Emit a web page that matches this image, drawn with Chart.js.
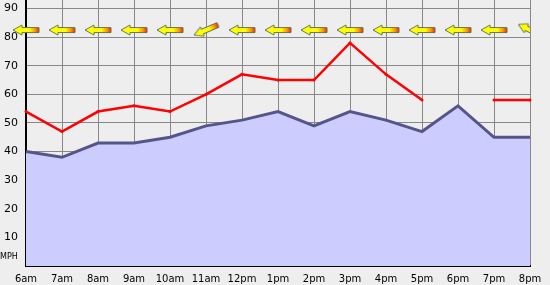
<!DOCTYPE html>
<html>
<head>
<meta charset="utf-8">
<script src="https://cdn.jsdelivr.net/npm/chart.js@4/dist/chart.umd.min.js"></script>
<style>
  html, body { margin: 0; padding: 0; background: #eeeeee; }
  canvas { display: block; }
</style>
</head>
<body>
<canvas id="wind-chart" width="550" height="285"></canvas>
<script>
'use strict';

// 時刻ラベル
const hours = ['6am', '7am', '8am', '9am', '10am', '11am', '12pm', '1pm', '2pm', '3pm', '4pm', '5pm', '6pm', '7pm', '8pm'];
// 平均風速 (MPH)
const windAvg = [40, 38, 43, 43, 45, 49, 51, 54, 49, 54, 51, 47, 56, 45, 45];
// 最大瞬間風速 (MPH)
const windGust = [54, 47, 54, 56, 54, 60, 67, 65, 65, 78, 67, 58, null, 58, 58];
// 風向矢印の回転 (度)
const arrowRotation = [0, 0, 0, 0, 0, -23, 0, 0, 0, 0, 0, 0, 0, 0, 26];
const arrowLevel = 82.5;
const yTicks = [10, 20, 30, 40, 50, 60, 70, 80, 90];

// 矢印画像を作る
function makeArrow() {
  const c = document.createElement('canvas');
  c.width = 28;
  c.height = 12;
  const g = c.getContext('2d');
  const grad = g.createLinearGradient(0, 0, 28, 0);
  grad.addColorStop(0, '#ffff00');
  grad.addColorStop(0.62, '#ffff00');
  grad.addColorStop(0.82, '#ff9900');
  grad.addColorStop(1, '#dd1100');
  g.beginPath();
  g.moveTo(1, 6);
  g.lineTo(10, 1);
  g.lineTo(10, 3.5);
  g.lineTo(27, 3.5);
  g.lineTo(27, 8.5);
  g.lineTo(10, 8.5);
  g.lineTo(10, 11);
  g.closePath();
  g.fillStyle = grad;
  g.fill();
  g.strokeStyle = '#667755';
  g.lineWidth = 1;
  g.stroke();
  return c;
}
const arrowImg = makeArrow();

// MPH ラベル
const mphLabel = {
  id: 'mphLabel',
  afterDraw(chart) {
    const y = chart.scales.y;
    const ctx = chart.ctx;
    ctx.save();
    ctx.font = '8px "DejaVu Sans"';
    ctx.fillStyle = '#000';
    ctx.textAlign = 'left';
    ctx.textBaseline = 'middle';
    ctx.fillText('MPH', 0, y.getPixelForValue(0) - 9);
    ctx.restore();
  }
};

const ctx = document.getElementById('wind-chart').getContext('2d');

new Chart(ctx, {
  type: 'line',
  data: {
    labels: hours,
    datasets: [
      {
        data: hours.map(() => arrowLevel),
        showLine: false,
        pointStyle: arrowImg,
        pointRotation: arrowRotation,
        pointRadius: 10,
        clip: { left: false, top: false, right: 0, bottom: false },
        order: 0,
      },
      {
        data: windGust,
        borderColor: '#ff0000',
        borderWidth: 2.5,
        pointRadius: 1.5,
        pointBackgroundColor: '#ff0000',
        pointBorderWidth: 0,
        spanGaps: false,
        fill: false,
        order: 1,
      },
      {
        data: windAvg,
        borderColor: '#55558a',
        borderWidth: 3,
        backgroundColor: '#ccccff',
        pointRadius: 0,
        fill: 'origin',
        order: 2,
      },
    ]
  },
  options: {
    responsive: false,
    animation: false,
    layout: { autoPadding: false, padding: { left: 0, right: 20, top: 0, bottom: 0 } },
    plugins: {
      legend: { display: false },
      tooltip: { enabled: false },
    },
    scales: {
      x: {
        offset: false,
        grid: { color: '#888888', lineWidth: 1, drawTicks: false },
        border: { color: '#000000', width: 2 },
        ticks: {
          font: { family: 'DejaVu Sans', size: 10 },
          color: '#000',
          padding: 7,
          maxRotation: 0,
          autoSkip: false,
        },
        afterFit(scale) {
          scale.height = 19;
          scale.paddingLeft = 0;
          scale.paddingRight = 0;
        },
      },
      y: {
        min: 0,
        max: 93,
        afterBuildTicks(scale) {
          scale.ticks = yTicks.map(v => ({ value: v }));
        },
        grid: { color: '#888888', lineWidth: 1, drawTicks: false },
        border: { color: '#000000', width: 2 },
        ticks: {
          font: { family: 'DejaVu Sans', size: 11 },
          color: '#000',
          padding: 8,
        },
        afterFit(scale) {
          scale.width = 26;
          scale.paddingTop = 0;
          scale.paddingBottom = 0;
        },
      },
    },
  },
  plugins: [mphLabel],
});
</script>
</body>
</html>
